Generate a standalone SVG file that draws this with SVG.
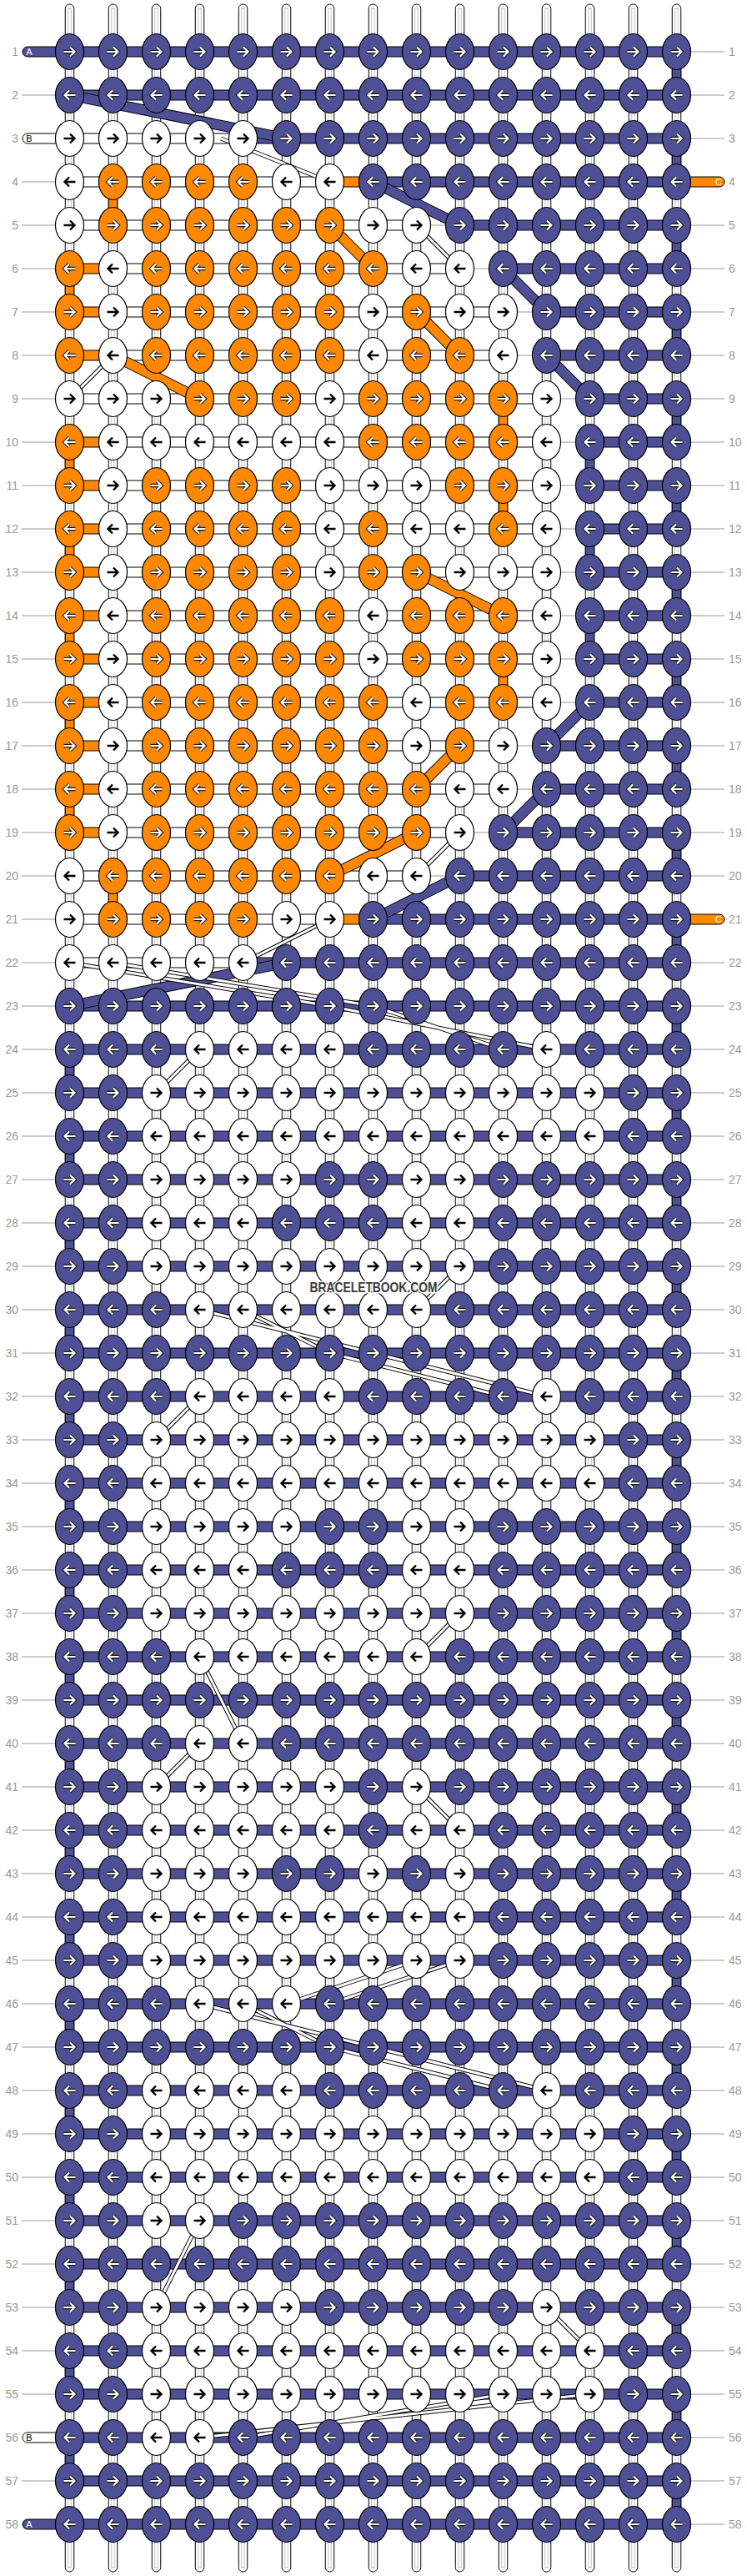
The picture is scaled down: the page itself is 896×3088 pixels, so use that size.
<svg xmlns="http://www.w3.org/2000/svg" width="896" height="3088" viewBox="0 0 896 3088">
<style>
.vs{fill:#fff;stroke:#000;stroke-width:1}
.vi{fill:none;stroke:#c4c4c4;stroke-width:1}
.hb{fill:#4f4f96;stroke:#000;stroke-width:1}
.ho{fill:#ff8800;stroke:#000;stroke-width:1}
.hw{fill:#fff;stroke:#000;stroke-width:1}
.gl{stroke:#bbb;stroke-width:1.5}
.dk{fill:none;stroke:#000;stroke-width:13}
.db{fill:none;stroke:#4f4f96;stroke-width:11}
.do{fill:none;stroke:#ff8800;stroke-width:11}
.tk{fill:none;stroke:#000;stroke-width:5}
.tw{fill:none;stroke:#fff;stroke-width:3}
.n{font-family:"Liberation Sans",Arial,sans-serif;font-size:14px;fill:#999}
.nl{text-anchor:end}
.lt{font-family:"Liberation Sans",Arial,sans-serif;font-size:11px;text-anchor:middle}
.ao{stroke:#1a1a1a;stroke-width:4.4;fill:none}
.ai{stroke:#fff;stroke-width:2.2;fill:none}
.ak{stroke:#000;stroke-width:2.4;fill:none}
.kb{fill:#4f4f96;stroke:#000;stroke-width:1.2}
.ko{fill:#ff8800;stroke:#000;stroke-width:1.2}
.kw{fill:#fff;stroke:#000;stroke-width:1.2}
</style>
<defs>
<path id="aR" d="M-7,0H5.5M0.5,-5.5L6,0L0.5,5.5"/>
<path id="aL" d="M7,0H-5.5M-0.5,-5.5L-6,0L-0.5,5.5"/>
<path id="thin" d="M265,166L395.5,218M499.5,270L551.5,322M83.5,478L135.5,426M551.5,998L499.5,1050M395.5,1102L291.5,1154M83.5,1154L395.5,1206L655.5,1258M135.5,1154L447.5,1206L603.5,1258M239.5,1258L187.5,1310M551.5,1518L499.5,1570M239.5,1570L447.5,1622L655.5,1674M291.5,1570L395.5,1622L603.5,1674M239.5,1674L187.5,1726M551.5,1934L499.5,1986M239.5,1986L291.5,2090M239.5,2090L187.5,2142M499.5,2142L551.5,2194M551.5,2350L395.5,2402M499.5,2350L343.5,2402M239.5,2402L447.5,2454L655.5,2506M291.5,2402L395.5,2454L603.5,2506M239.5,2662L187.5,2766M655.5,2766L707.5,2818M707.5,2870L239.5,2922M603.5,2870L291.5,2922"/>
<g id="BR"><ellipse rx="17" ry="21.5" class="kb"/><use href="#aR" class="ao"/><use href="#aR" class="ai"/></g>
<g id="BL"><ellipse rx="17" ry="21.5" class="kb"/><use href="#aL" class="ao"/><use href="#aL" class="ai"/></g>
<g id="OR"><ellipse rx="17" ry="21.5" class="ko"/><use href="#aR" class="ao"/><use href="#aR" class="ai"/></g>
<g id="OL"><ellipse rx="17" ry="21.5" class="ko"/><use href="#aL" class="ao"/><use href="#aL" class="ai"/></g>
<g id="WR"><ellipse rx="17" ry="21.5" class="kw"/><use href="#aR" class="ak"/></g>
<g id="WL"><ellipse rx="17" ry="21.5" class="kw"/><use href="#aL" class="ak"/></g>
</defs>
<rect width="896" height="3088" fill="#fff"/>
<g id="strings">
<rect class="vs" x="78.25" y="5" width="10.5" height="3078" rx="5.25"/><rect class="vi" x="81.75" y="10" width="3.5" height="3068"/>
<rect class="vs" x="130.25" y="5" width="10.5" height="3078" rx="5.25"/><rect class="vi" x="133.75" y="10" width="3.5" height="3068"/>
<rect class="vs" x="182.25" y="5" width="10.5" height="3078" rx="5.25"/><rect class="vi" x="185.75" y="10" width="3.5" height="3068"/>
<rect class="vs" x="234.25" y="5" width="10.5" height="3078" rx="5.25"/><rect class="vi" x="237.75" y="10" width="3.5" height="3068"/>
<rect class="vs" x="286.25" y="5" width="10.5" height="3078" rx="5.25"/><rect class="vi" x="289.75" y="10" width="3.5" height="3068"/>
<rect class="vs" x="338.25" y="5" width="10.5" height="3078" rx="5.25"/><rect class="vi" x="341.75" y="10" width="3.5" height="3068"/>
<rect class="vs" x="390.25" y="5" width="10.5" height="3078" rx="5.25"/><rect class="vi" x="393.75" y="10" width="3.5" height="3068"/>
<rect class="vs" x="442.25" y="5" width="10.5" height="3078" rx="5.25"/><rect class="vi" x="445.75" y="10" width="3.5" height="3068"/>
<rect class="vs" x="494.25" y="5" width="10.5" height="3078" rx="5.25"/><rect class="vi" x="497.75" y="10" width="3.5" height="3068"/>
<rect class="vs" x="546.25" y="5" width="10.5" height="3078" rx="5.25"/><rect class="vi" x="549.75" y="10" width="3.5" height="3068"/>
<rect class="vs" x="598.25" y="5" width="10.5" height="3078" rx="5.25"/><rect class="vi" x="601.75" y="10" width="3.5" height="3068"/>
<rect class="vs" x="650.25" y="5" width="10.5" height="3078" rx="5.25"/><rect class="vi" x="653.75" y="10" width="3.5" height="3068"/>
<rect class="vs" x="702.25" y="5" width="10.5" height="3078" rx="5.25"/><rect class="vi" x="705.75" y="10" width="3.5" height="3068"/>
<rect class="vs" x="754.25" y="5" width="10.5" height="3078" rx="5.25"/><rect class="vi" x="757.75" y="10" width="3.5" height="3068"/>
<rect class="vs" x="806.25" y="5" width="10.5" height="3078" rx="5.25"/><rect class="vi" x="809.75" y="10" width="3.5" height="3068"/>
</g>
<g id="connectors">
<g id="leaders" class="gl">
<line x1="26" y1="114" x2="67" y2="114"/><line x1="26" y1="218" x2="67" y2="218"/><line x1="26" y1="270" x2="67" y2="270"/><line x1="26" y1="322" x2="67" y2="322"/><line x1="26" y1="374" x2="67" y2="374"/><line x1="26" y1="426" x2="67" y2="426"/><line x1="26" y1="478" x2="67" y2="478"/><line x1="26" y1="530" x2="67" y2="530"/><line x1="26" y1="582" x2="67" y2="582"/><line x1="26" y1="634" x2="67" y2="634"/><line x1="26" y1="686" x2="67" y2="686"/><line x1="26" y1="738" x2="67" y2="738"/><line x1="26" y1="790" x2="67" y2="790"/><line x1="26" y1="842" x2="67" y2="842"/><line x1="26" y1="894" x2="67" y2="894"/><line x1="26" y1="946" x2="67" y2="946"/><line x1="26" y1="998" x2="67" y2="998"/><line x1="26" y1="1050" x2="67" y2="1050"/><line x1="26" y1="1102" x2="67" y2="1102"/><line x1="26" y1="1154" x2="67" y2="1154"/><line x1="26" y1="1206" x2="67" y2="1206"/><line x1="26" y1="1258" x2="67" y2="1258"/><line x1="26" y1="1310" x2="67" y2="1310"/><line x1="26" y1="1362" x2="67" y2="1362"/><line x1="26" y1="1414" x2="67" y2="1414"/><line x1="26" y1="1466" x2="67" y2="1466"/><line x1="26" y1="1518" x2="67" y2="1518"/><line x1="26" y1="1570" x2="67" y2="1570"/><line x1="26" y1="1622" x2="67" y2="1622"/><line x1="26" y1="1674" x2="67" y2="1674"/><line x1="26" y1="1726" x2="67" y2="1726"/><line x1="26" y1="1778" x2="67" y2="1778"/><line x1="26" y1="1830" x2="67" y2="1830"/><line x1="26" y1="1882" x2="67" y2="1882"/><line x1="26" y1="1934" x2="67" y2="1934"/><line x1="26" y1="1986" x2="67" y2="1986"/><line x1="26" y1="2038" x2="67" y2="2038"/><line x1="26" y1="2090" x2="67" y2="2090"/><line x1="26" y1="2142" x2="67" y2="2142"/><line x1="26" y1="2194" x2="67" y2="2194"/><line x1="26" y1="2246" x2="67" y2="2246"/><line x1="26" y1="2298" x2="67" y2="2298"/><line x1="26" y1="2350" x2="67" y2="2350"/><line x1="26" y1="2402" x2="67" y2="2402"/><line x1="26" y1="2454" x2="67" y2="2454"/><line x1="26" y1="2506" x2="67" y2="2506"/><line x1="26" y1="2558" x2="67" y2="2558"/><line x1="26" y1="2610" x2="67" y2="2610"/><line x1="26" y1="2662" x2="67" y2="2662"/><line x1="26" y1="2714" x2="67" y2="2714"/><line x1="26" y1="2766" x2="67" y2="2766"/><line x1="26" y1="2818" x2="67" y2="2818"/><line x1="26" y1="2870" x2="67" y2="2870"/><line x1="26" y1="2974" x2="67" y2="2974"/>
<line x1="828" y1="62" x2="869" y2="62"/><line x1="828" y1="114" x2="869" y2="114"/><line x1="828" y1="166" x2="869" y2="166"/><line x1="828" y1="270" x2="869" y2="270"/><line x1="828" y1="322" x2="869" y2="322"/><line x1="828" y1="374" x2="869" y2="374"/><line x1="828" y1="426" x2="869" y2="426"/><line x1="828" y1="478" x2="869" y2="478"/><line x1="828" y1="530" x2="869" y2="530"/><line x1="828" y1="582" x2="869" y2="582"/><line x1="828" y1="634" x2="869" y2="634"/><line x1="828" y1="686" x2="869" y2="686"/><line x1="828" y1="738" x2="869" y2="738"/><line x1="828" y1="790" x2="869" y2="790"/><line x1="828" y1="842" x2="869" y2="842"/><line x1="828" y1="894" x2="869" y2="894"/><line x1="828" y1="946" x2="869" y2="946"/><line x1="828" y1="998" x2="869" y2="998"/><line x1="828" y1="1050" x2="869" y2="1050"/><line x1="828" y1="1154" x2="869" y2="1154"/><line x1="828" y1="1206" x2="869" y2="1206"/><line x1="828" y1="1258" x2="869" y2="1258"/><line x1="828" y1="1310" x2="869" y2="1310"/><line x1="828" y1="1362" x2="869" y2="1362"/><line x1="828" y1="1414" x2="869" y2="1414"/><line x1="828" y1="1466" x2="869" y2="1466"/><line x1="828" y1="1518" x2="869" y2="1518"/><line x1="828" y1="1570" x2="869" y2="1570"/><line x1="828" y1="1622" x2="869" y2="1622"/><line x1="828" y1="1674" x2="869" y2="1674"/><line x1="828" y1="1726" x2="869" y2="1726"/><line x1="828" y1="1778" x2="869" y2="1778"/><line x1="828" y1="1830" x2="869" y2="1830"/><line x1="828" y1="1882" x2="869" y2="1882"/><line x1="828" y1="1934" x2="869" y2="1934"/><line x1="828" y1="1986" x2="869" y2="1986"/><line x1="828" y1="2038" x2="869" y2="2038"/><line x1="828" y1="2090" x2="869" y2="2090"/><line x1="828" y1="2142" x2="869" y2="2142"/><line x1="828" y1="2194" x2="869" y2="2194"/><line x1="828" y1="2246" x2="869" y2="2246"/><line x1="828" y1="2298" x2="869" y2="2298"/><line x1="828" y1="2350" x2="869" y2="2350"/><line x1="828" y1="2402" x2="869" y2="2402"/><line x1="828" y1="2454" x2="869" y2="2454"/><line x1="828" y1="2506" x2="869" y2="2506"/><line x1="828" y1="2558" x2="869" y2="2558"/><line x1="828" y1="2610" x2="869" y2="2610"/><line x1="828" y1="2662" x2="869" y2="2662"/><line x1="828" y1="2714" x2="869" y2="2714"/><line x1="828" y1="2766" x2="869" y2="2766"/><line x1="828" y1="2818" x2="869" y2="2818"/><line x1="828" y1="2870" x2="869" y2="2870"/><line x1="828" y1="2922" x2="869" y2="2922"/><line x1="828" y1="2974" x2="869" y2="2974"/><line x1="828" y1="3026" x2="869" y2="3026"/>
<line x1="499.5" y1="270" x2="551.5" y2="270"/><line x1="551.5" y1="322" x2="603.5" y2="322"/><line x1="603.5" y1="374" x2="655.5" y2="374"/><line x1="603.5" y1="426" x2="655.5" y2="426"/><line x1="655.5" y1="478" x2="707.5" y2="478"/><line x1="655.5" y1="530" x2="707.5" y2="530"/><line x1="655.5" y1="582" x2="707.5" y2="582"/><line x1="655.5" y1="634" x2="707.5" y2="634"/><line x1="655.5" y1="686" x2="707.5" y2="686"/><line x1="655.5" y1="738" x2="707.5" y2="738"/><line x1="655.5" y1="790" x2="707.5" y2="790"/><line x1="655.5" y1="842" x2="707.5" y2="842"/><line x1="603.5" y1="894" x2="655.5" y2="894"/><line x1="603.5" y1="946" x2="655.5" y2="946"/><line x1="551.5" y1="998" x2="603.5" y2="998"/><line x1="499.5" y1="1050" x2="551.5" y2="1050"/>
</g>
<g id="stubs">
<path class="hb" d="M84,56H33A6,6 0 0 0 33,68H84Z"/>
<path class="hw" d="M84,160H33A6,6 0 0 0 33,172H84Z"/>
<path class="hw" d="M84,2916H33A6,6 0 0 0 33,2928H84Z"/>
<path class="hb" d="M84,3020H33A6,6 0 0 0 33,3032H84Z"/>
<path class="ho" d="M811,212H863A6,6 0 0 1 863,224H811Z"/>
<path class="ho" d="M811,1096H863A6,6 0 0 1 863,1108H811Z"/>
</g>
<g id="vgaps">
<rect class="hb" x="806.25" y="62" width="10.5" height="52"/><rect class="hb" x="806.25" y="166" width="10.5" height="52"/><rect class="hb" x="806.25" y="270" width="10.5" height="52"/><rect class="hb" x="806.25" y="374" width="10.5" height="52"/><rect class="hb" x="806.25" y="478" width="10.5" height="52"/><rect class="hb" x="806.25" y="582" width="10.5" height="52"/><rect class="hb" x="806.25" y="686" width="10.5" height="52"/><rect class="hb" x="806.25" y="790" width="10.5" height="52"/><rect class="hb" x="806.25" y="894" width="10.5" height="52"/><rect class="hb" x="806.25" y="998" width="10.5" height="52"/><rect class="hb" x="806.25" y="1102" width="10.5" height="52"/><rect class="hb" x="806.25" y="1206" width="10.5" height="52"/><rect class="hb" x="806.25" y="1310" width="10.5" height="52"/><rect class="hb" x="806.25" y="1414" width="10.5" height="52"/><rect class="hb" x="806.25" y="1518" width="10.5" height="52"/><rect class="hb" x="806.25" y="1622" width="10.5" height="52"/><rect class="hb" x="806.25" y="1726" width="10.5" height="52"/><rect class="hb" x="806.25" y="1830" width="10.5" height="52"/><rect class="hb" x="806.25" y="1934" width="10.5" height="52"/><rect class="hb" x="806.25" y="2038" width="10.5" height="52"/><rect class="hb" x="806.25" y="2142" width="10.5" height="52"/><rect class="hb" x="806.25" y="2246" width="10.5" height="52"/><rect class="hb" x="806.25" y="2350" width="10.5" height="52"/><rect class="hb" x="806.25" y="2454" width="10.5" height="52"/><rect class="hb" x="806.25" y="2558" width="10.5" height="52"/><rect class="hb" x="806.25" y="2662" width="10.5" height="52"/><rect class="hb" x="806.25" y="2766" width="10.5" height="52"/><rect class="hb" x="806.25" y="2870" width="10.5" height="52"/><rect class="hb" x="806.25" y="2974" width="10.5" height="52"/>
<rect class="hb" x="78.25" y="1258" width="10.5" height="52"/><rect class="hb" x="78.25" y="1362" width="10.5" height="52"/><rect class="hb" x="78.25" y="1466" width="10.5" height="52"/><rect class="hb" x="78.25" y="1570" width="10.5" height="52"/><rect class="hb" x="78.25" y="1674" width="10.5" height="52"/><rect class="hb" x="78.25" y="1778" width="10.5" height="52"/><rect class="hb" x="78.25" y="1882" width="10.5" height="52"/><rect class="hb" x="78.25" y="1986" width="10.5" height="52"/><rect class="hb" x="78.25" y="2090" width="10.5" height="52"/><rect class="hb" x="78.25" y="2194" width="10.5" height="52"/><rect class="hb" x="78.25" y="2298" width="10.5" height="52"/><rect class="hb" x="78.25" y="2402" width="10.5" height="52"/><rect class="hb" x="78.25" y="2506" width="10.5" height="52"/><rect class="hb" x="78.25" y="2610" width="10.5" height="52"/><rect class="hb" x="78.25" y="2714" width="10.5" height="52"/><rect class="hb" x="78.25" y="2818" width="10.5" height="52"/><rect class="hb" x="78.25" y="2922" width="10.5" height="52"/>
<rect class="ho" x="78.25" y="322" width="10.5" height="52"/><rect class="ho" x="78.25" y="530" width="10.5" height="52"/><rect class="ho" x="78.25" y="634" width="10.5" height="52"/><rect class="ho" x="78.25" y="738" width="10.5" height="52"/><rect class="ho" x="78.25" y="842" width="10.5" height="52"/><rect class="ho" x="78.25" y="946" width="10.5" height="52"/>
<rect class="ho" x="130.25" y="218" width="10.5" height="52"/><rect class="ho" x="130.25" y="1050" width="10.5" height="52"/>
<rect class="ho" x="598.25" y="478" width="10.5" height="52"/><rect class="ho" x="598.25" y="582" width="10.5" height="52"/><rect class="ho" x="598.25" y="790" width="10.5" height="52"/>
<rect class="hb" x="702.25" y="530" width="10.5" height="52"/><rect class="hb" x="702.25" y="634" width="10.5" height="52"/><rect class="hb" x="702.25" y="738" width="10.5" height="52"/>
</g>
<g id="hbands">
<rect class="hb" x="83.5" y="56" width="728" height="12"/>
<rect class="hb" x="83.5" y="108" width="728" height="12"/>
<rect class="hw" x="83.5" y="160" width="208" height="12"/><rect class="hb" x="291.5" y="160" width="520" height="12"/>
<rect class="hw" x="83.5" y="212" width="312" height="12"/><rect class="ho" x="395.5" y="212" width="52" height="12"/><rect class="hb" x="447.5" y="212" width="364" height="12"/>
<rect class="hw" x="83.5" y="264" width="416" height="12"/><rect class="hb" x="551.5" y="264" width="260" height="12"/>
<rect class="ho" x="83.5" y="316" width="52" height="12"/><rect class="hw" x="135.5" y="316" width="416" height="12"/><rect class="hb" x="603.5" y="316" width="208" height="12"/>
<rect class="ho" x="83.5" y="368" width="52" height="12"/><rect class="hw" x="135.5" y="368" width="468" height="12"/><rect class="hb" x="655.5" y="368" width="156" height="12"/>
<rect class="ho" x="83.5" y="420" width="52" height="12"/><rect class="hw" x="135.5" y="420" width="468" height="12"/><rect class="hb" x="655.5" y="420" width="156" height="12"/>
<rect class="hw" x="83.5" y="472" width="572" height="12"/><rect class="hb" x="707.5" y="472" width="104" height="12"/>
<rect class="ho" x="83.5" y="524" width="52" height="12"/><rect class="hw" x="135.5" y="524" width="520" height="12"/><rect class="hb" x="707.5" y="524" width="104" height="12"/>
<rect class="ho" x="83.5" y="576" width="52" height="12"/><rect class="hw" x="135.5" y="576" width="520" height="12"/><rect class="hb" x="707.5" y="576" width="104" height="12"/>
<rect class="ho" x="83.5" y="628" width="52" height="12"/><rect class="hw" x="135.5" y="628" width="520" height="12"/><rect class="hb" x="707.5" y="628" width="104" height="12"/>
<rect class="ho" x="83.5" y="680" width="52" height="12"/><rect class="hw" x="135.5" y="680" width="520" height="12"/><rect class="hb" x="707.5" y="680" width="104" height="12"/>
<rect class="ho" x="83.5" y="732" width="52" height="12"/><rect class="hw" x="135.5" y="732" width="520" height="12"/><rect class="hb" x="707.5" y="732" width="104" height="12"/>
<rect class="ho" x="83.5" y="784" width="52" height="12"/><rect class="hw" x="135.5" y="784" width="520" height="12"/><rect class="hb" x="707.5" y="784" width="104" height="12"/>
<rect class="ho" x="83.5" y="836" width="52" height="12"/><rect class="hw" x="135.5" y="836" width="520" height="12"/><rect class="hb" x="707.5" y="836" width="104" height="12"/>
<rect class="ho" x="83.5" y="888" width="52" height="12"/><rect class="hw" x="135.5" y="888" width="468" height="12"/><rect class="hb" x="655.5" y="888" width="156" height="12"/>
<rect class="ho" x="83.5" y="940" width="52" height="12"/><rect class="hw" x="135.5" y="940" width="468" height="12"/><rect class="hb" x="655.5" y="940" width="156" height="12"/>
<rect class="ho" x="83.5" y="992" width="52" height="12"/><rect class="hw" x="135.5" y="992" width="416" height="12"/><rect class="hb" x="603.5" y="992" width="208" height="12"/>
<rect class="hw" x="83.5" y="1044" width="416" height="12"/><rect class="hb" x="551.5" y="1044" width="260" height="12"/>
<rect class="hw" x="83.5" y="1096" width="312" height="12"/><rect class="ho" x="395.5" y="1096" width="52" height="12"/><rect class="hb" x="447.5" y="1096" width="364" height="12"/>
<rect class="hw" x="83.5" y="1148" width="208" height="12"/><rect class="hb" x="291.5" y="1148" width="520" height="12"/>
<rect class="hb" x="83.5" y="1200" width="728" height="12"/><rect class="hb" x="83.5" y="1252" width="728" height="12"/><rect class="hb" x="83.5" y="1304" width="728" height="12"/><rect class="hb" x="83.5" y="1356" width="728" height="12"/><rect class="hb" x="83.5" y="1408" width="728" height="12"/><rect class="hb" x="83.5" y="1460" width="728" height="12"/><rect class="hb" x="83.5" y="1512" width="728" height="12"/><rect class="hb" x="83.5" y="1564" width="728" height="12"/><rect class="hb" x="83.5" y="1616" width="728" height="12"/><rect class="hb" x="83.5" y="1668" width="728" height="12"/><rect class="hb" x="83.5" y="1720" width="728" height="12"/><rect class="hb" x="83.5" y="1772" width="728" height="12"/><rect class="hb" x="83.5" y="1824" width="728" height="12"/><rect class="hb" x="83.5" y="1876" width="728" height="12"/><rect class="hb" x="83.5" y="1928" width="728" height="12"/><rect class="hb" x="83.5" y="1980" width="728" height="12"/><rect class="hb" x="83.5" y="2032" width="728" height="12"/><rect class="hb" x="83.5" y="2084" width="728" height="12"/><rect class="hb" x="83.5" y="2136" width="728" height="12"/><rect class="hb" x="83.5" y="2188" width="728" height="12"/><rect class="hb" x="83.5" y="2240" width="728" height="12"/><rect class="hb" x="83.5" y="2292" width="728" height="12"/><rect class="hb" x="83.5" y="2344" width="728" height="12"/><rect class="hb" x="83.5" y="2396" width="728" height="12"/><rect class="hb" x="83.5" y="2448" width="728" height="12"/><rect class="hb" x="83.5" y="2500" width="728" height="12"/><rect class="hb" x="83.5" y="2552" width="728" height="12"/><rect class="hb" x="83.5" y="2604" width="728" height="12"/><rect class="hb" x="83.5" y="2656" width="728" height="12"/><rect class="hb" x="83.5" y="2708" width="728" height="12"/><rect class="hb" x="83.5" y="2760" width="728" height="12"/><rect class="hb" x="83.5" y="2812" width="728" height="12"/><rect class="hb" x="83.5" y="2864" width="728" height="12"/><rect class="hb" x="83.5" y="2916" width="728" height="12"/><rect class="hb" x="83.5" y="2968" width="728" height="12"/><rect class="hb" x="83.5" y="3020" width="728" height="12"/>
</g>
<g id="diagonals">
<path class="dk" d="M83.5,114L343.5,166M447.5,218L551.5,270M603.5,322L655.5,374M655.5,426L707.5,478M707.5,842L655.5,894M655.5,946L603.5,998M551.5,1050L447.5,1102M343.5,1154L83.5,1206M395.5,270L447.5,322M499.5,374L551.5,426M135.5,426L239.5,478M499.5,686L603.5,738M551.5,894L499.5,946M499.5,998L395.5,1050"/>
<path class="db" d="M83.5,114L343.5,166M447.5,218L551.5,270M603.5,322L655.5,374M655.5,426L707.5,478M707.5,842L655.5,894M655.5,946L603.5,998M551.5,1050L447.5,1102M343.5,1154L83.5,1206"/>
<path class="do" d="M395.5,270L447.5,322M499.5,374L551.5,426M135.5,426L239.5,478M499.5,686L603.5,738M551.5,894L499.5,946M499.5,998L395.5,1050"/>
<use href="#thin" class="tk"/>
<use href="#thin" class="tw"/>
</g>
</g>
<g id="knots">
<g id="row1" transform="translate(0,62)"><use id="k1-1" href="#BR" x="83.5"/><use id="k1-2" href="#BR" x="135.5"/><use id="k1-3" href="#BR" x="187.5"/><use id="k1-4" href="#BR" x="239.5"/><use id="k1-5" href="#BR" x="291.5"/><use id="k1-6" href="#BR" x="343.5"/><use id="k1-7" href="#BR" x="395.5"/><use id="k1-8" href="#BR" x="447.5"/><use id="k1-9" href="#BR" x="499.5"/><use id="k1-10" href="#BR" x="551.5"/><use id="k1-11" href="#BR" x="603.5"/><use id="k1-12" href="#BR" x="655.5"/><use id="k1-13" href="#BR" x="707.5"/><use id="k1-14" href="#BR" x="759.5"/><use id="k1-15" href="#BR" x="811.5"/></g>
<g id="row2" transform="translate(0,114)"><use id="k2-1" href="#BL" x="83.5"/><use id="k2-2" href="#BL" x="135.5"/><use id="k2-3" href="#BL" x="187.5"/><use id="k2-4" href="#BL" x="239.5"/><use id="k2-5" href="#BL" x="291.5"/><use id="k2-6" href="#BL" x="343.5"/><use id="k2-7" href="#BL" x="395.5"/><use id="k2-8" href="#BL" x="447.5"/><use id="k2-9" href="#BL" x="499.5"/><use id="k2-10" href="#BL" x="551.5"/><use id="k2-11" href="#BL" x="603.5"/><use id="k2-12" href="#BL" x="655.5"/><use id="k2-13" href="#BL" x="707.5"/><use id="k2-14" href="#BL" x="759.5"/><use id="k2-15" href="#BL" x="811.5"/></g>
<g id="row3" transform="translate(0,166)"><use id="k3-1" href="#WR" x="83.5"/><use id="k3-2" href="#WR" x="135.5"/><use id="k3-3" href="#WR" x="187.5"/><use id="k3-4" href="#WR" x="239.5"/><use id="k3-5" href="#WR" x="291.5"/><use id="k3-6" href="#BR" x="343.5"/><use id="k3-7" href="#BR" x="395.5"/><use id="k3-8" href="#BR" x="447.5"/><use id="k3-9" href="#BR" x="499.5"/><use id="k3-10" href="#BR" x="551.5"/><use id="k3-11" href="#BR" x="603.5"/><use id="k3-12" href="#BR" x="655.5"/><use id="k3-13" href="#BR" x="707.5"/><use id="k3-14" href="#BR" x="759.5"/><use id="k3-15" href="#BR" x="811.5"/></g>
<g id="row4" transform="translate(0,218)"><use id="k4-1" href="#WL" x="83.5"/><use id="k4-2" href="#OL" x="135.5"/><use id="k4-3" href="#OL" x="187.5"/><use id="k4-4" href="#OL" x="239.5"/><use id="k4-5" href="#OL" x="291.5"/><use id="k4-6" href="#WL" x="343.5"/><use id="k4-7" href="#WL" x="395.5"/><use id="k4-8" href="#BL" x="447.5"/><use id="k4-9" href="#BL" x="499.5"/><use id="k4-10" href="#BL" x="551.5"/><use id="k4-11" href="#BL" x="603.5"/><use id="k4-12" href="#BL" x="655.5"/><use id="k4-13" href="#BL" x="707.5"/><use id="k4-14" href="#BL" x="759.5"/><use id="k4-15" href="#BL" x="811.5"/></g>
<g id="row5" transform="translate(0,270)"><use id="k5-1" href="#WR" x="83.5"/><use id="k5-2" href="#OR" x="135.5"/><use id="k5-3" href="#OR" x="187.5"/><use id="k5-4" href="#OR" x="239.5"/><use id="k5-5" href="#OR" x="291.5"/><use id="k5-6" href="#OR" x="343.5"/><use id="k5-7" href="#OR" x="395.5"/><use id="k5-8" href="#WR" x="447.5"/><use id="k5-9" href="#WR" x="499.5"/><use id="k5-10" href="#BR" x="551.5"/><use id="k5-11" href="#BR" x="603.5"/><use id="k5-12" href="#BR" x="655.5"/><use id="k5-13" href="#BR" x="707.5"/><use id="k5-14" href="#BR" x="759.5"/><use id="k5-15" href="#BR" x="811.5"/></g>
<g id="row6" transform="translate(0,322)"><use id="k6-1" href="#OL" x="83.5"/><use id="k6-2" href="#WL" x="135.5"/><use id="k6-3" href="#OL" x="187.5"/><use id="k6-4" href="#OL" x="239.5"/><use id="k6-5" href="#OL" x="291.5"/><use id="k6-6" href="#OL" x="343.5"/><use id="k6-7" href="#OL" x="395.5"/><use id="k6-8" href="#OL" x="447.5"/><use id="k6-9" href="#WL" x="499.5"/><use id="k6-10" href="#WL" x="551.5"/><use id="k6-11" href="#BL" x="603.5"/><use id="k6-12" href="#BL" x="655.5"/><use id="k6-13" href="#BL" x="707.5"/><use id="k6-14" href="#BL" x="759.5"/><use id="k6-15" href="#BL" x="811.5"/></g>
<g id="row7" transform="translate(0,374)"><use id="k7-1" href="#OR" x="83.5"/><use id="k7-2" href="#WR" x="135.5"/><use id="k7-3" href="#OR" x="187.5"/><use id="k7-4" href="#OR" x="239.5"/><use id="k7-5" href="#OR" x="291.5"/><use id="k7-6" href="#OR" x="343.5"/><use id="k7-7" href="#OR" x="395.5"/><use id="k7-8" href="#WR" x="447.5"/><use id="k7-9" href="#OR" x="499.5"/><use id="k7-10" href="#WR" x="551.5"/><use id="k7-11" href="#WR" x="603.5"/><use id="k7-12" href="#BR" x="655.5"/><use id="k7-13" href="#BR" x="707.5"/><use id="k7-14" href="#BR" x="759.5"/><use id="k7-15" href="#BR" x="811.5"/></g>
<g id="row8" transform="translate(0,426)"><use id="k8-1" href="#OL" x="83.5"/><use id="k8-2" href="#WL" x="135.5"/><use id="k8-3" href="#OL" x="187.5"/><use id="k8-4" href="#OL" x="239.5"/><use id="k8-5" href="#OL" x="291.5"/><use id="k8-6" href="#OL" x="343.5"/><use id="k8-7" href="#OL" x="395.5"/><use id="k8-8" href="#WL" x="447.5"/><use id="k8-9" href="#OL" x="499.5"/><use id="k8-10" href="#OL" x="551.5"/><use id="k8-11" href="#WL" x="603.5"/><use id="k8-12" href="#BL" x="655.5"/><use id="k8-13" href="#BL" x="707.5"/><use id="k8-14" href="#BL" x="759.5"/><use id="k8-15" href="#BL" x="811.5"/></g>
<g id="row9" transform="translate(0,478)"><use id="k9-1" href="#WR" x="83.5"/><use id="k9-2" href="#WR" x="135.5"/><use id="k9-3" href="#WR" x="187.5"/><use id="k9-4" href="#OR" x="239.5"/><use id="k9-5" href="#OR" x="291.5"/><use id="k9-6" href="#OR" x="343.5"/><use id="k9-7" href="#WR" x="395.5"/><use id="k9-8" href="#OR" x="447.5"/><use id="k9-9" href="#OR" x="499.5"/><use id="k9-10" href="#OR" x="551.5"/><use id="k9-11" href="#OR" x="603.5"/><use id="k9-12" href="#WR" x="655.5"/><use id="k9-13" href="#BR" x="707.5"/><use id="k9-14" href="#BR" x="759.5"/><use id="k9-15" href="#BR" x="811.5"/></g>
<g id="row10" transform="translate(0,530)"><use id="k10-1" href="#OL" x="83.5"/><use id="k10-2" href="#WL" x="135.5"/><use id="k10-3" href="#WL" x="187.5"/><use id="k10-4" href="#WL" x="239.5"/><use id="k10-5" href="#WL" x="291.5"/><use id="k10-6" href="#WL" x="343.5"/><use id="k10-7" href="#WL" x="395.5"/><use id="k10-8" href="#OL" x="447.5"/><use id="k10-9" href="#OL" x="499.5"/><use id="k10-10" href="#OL" x="551.5"/><use id="k10-11" href="#OL" x="603.5"/><use id="k10-12" href="#WL" x="655.5"/><use id="k10-13" href="#BL" x="707.5"/><use id="k10-14" href="#BL" x="759.5"/><use id="k10-15" href="#BL" x="811.5"/></g>
<g id="row11" transform="translate(0,582)"><use id="k11-1" href="#OR" x="83.5"/><use id="k11-2" href="#WR" x="135.5"/><use id="k11-3" href="#OR" x="187.5"/><use id="k11-4" href="#OR" x="239.5"/><use id="k11-5" href="#OR" x="291.5"/><use id="k11-6" href="#OR" x="343.5"/><use id="k11-7" href="#WR" x="395.5"/><use id="k11-8" href="#WR" x="447.5"/><use id="k11-9" href="#WR" x="499.5"/><use id="k11-10" href="#OR" x="551.5"/><use id="k11-11" href="#OR" x="603.5"/><use id="k11-12" href="#WR" x="655.5"/><use id="k11-13" href="#BR" x="707.5"/><use id="k11-14" href="#BR" x="759.5"/><use id="k11-15" href="#BR" x="811.5"/></g>
<g id="row12" transform="translate(0,634)"><use id="k12-1" href="#OL" x="83.5"/><use id="k12-2" href="#WL" x="135.5"/><use id="k12-3" href="#OL" x="187.5"/><use id="k12-4" href="#OL" x="239.5"/><use id="k12-5" href="#OL" x="291.5"/><use id="k12-6" href="#OL" x="343.5"/><use id="k12-7" href="#WL" x="395.5"/><use id="k12-8" href="#OL" x="447.5"/><use id="k12-9" href="#WL" x="499.5"/><use id="k12-10" href="#WL" x="551.5"/><use id="k12-11" href="#OL" x="603.5"/><use id="k12-12" href="#WL" x="655.5"/><use id="k12-13" href="#BL" x="707.5"/><use id="k12-14" href="#BL" x="759.5"/><use id="k12-15" href="#BL" x="811.5"/></g>
<g id="row13" transform="translate(0,686)"><use id="k13-1" href="#OR" x="83.5"/><use id="k13-2" href="#WR" x="135.5"/><use id="k13-3" href="#OR" x="187.5"/><use id="k13-4" href="#OR" x="239.5"/><use id="k13-5" href="#OR" x="291.5"/><use id="k13-6" href="#OR" x="343.5"/><use id="k13-7" href="#WR" x="395.5"/><use id="k13-8" href="#OR" x="447.5"/><use id="k13-9" href="#OR" x="499.5"/><use id="k13-10" href="#WR" x="551.5"/><use id="k13-11" href="#WR" x="603.5"/><use id="k13-12" href="#WR" x="655.5"/><use id="k13-13" href="#BR" x="707.5"/><use id="k13-14" href="#BR" x="759.5"/><use id="k13-15" href="#BR" x="811.5"/></g>
<g id="row14" transform="translate(0,738)"><use id="k14-1" href="#OL" x="83.5"/><use id="k14-2" href="#WL" x="135.5"/><use id="k14-3" href="#OL" x="187.5"/><use id="k14-4" href="#OL" x="239.5"/><use id="k14-5" href="#OL" x="291.5"/><use id="k14-6" href="#OL" x="343.5"/><use id="k14-7" href="#OL" x="395.5"/><use id="k14-8" href="#WL" x="447.5"/><use id="k14-9" href="#OL" x="499.5"/><use id="k14-10" href="#OL" x="551.5"/><use id="k14-11" href="#OL" x="603.5"/><use id="k14-12" href="#WL" x="655.5"/><use id="k14-13" href="#BL" x="707.5"/><use id="k14-14" href="#BL" x="759.5"/><use id="k14-15" href="#BL" x="811.5"/></g>
<g id="row15" transform="translate(0,790)"><use id="k15-1" href="#OR" x="83.5"/><use id="k15-2" href="#WR" x="135.5"/><use id="k15-3" href="#OR" x="187.5"/><use id="k15-4" href="#OR" x="239.5"/><use id="k15-5" href="#OR" x="291.5"/><use id="k15-6" href="#OR" x="343.5"/><use id="k15-7" href="#OR" x="395.5"/><use id="k15-8" href="#WR" x="447.5"/><use id="k15-9" href="#OR" x="499.5"/><use id="k15-10" href="#OR" x="551.5"/><use id="k15-11" href="#OR" x="603.5"/><use id="k15-12" href="#WR" x="655.5"/><use id="k15-13" href="#BR" x="707.5"/><use id="k15-14" href="#BR" x="759.5"/><use id="k15-15" href="#BR" x="811.5"/></g>
<g id="row16" transform="translate(0,842)"><use id="k16-1" href="#OL" x="83.5"/><use id="k16-2" href="#WL" x="135.5"/><use id="k16-3" href="#OL" x="187.5"/><use id="k16-4" href="#OL" x="239.5"/><use id="k16-5" href="#OL" x="291.5"/><use id="k16-6" href="#OL" x="343.5"/><use id="k16-7" href="#OL" x="395.5"/><use id="k16-8" href="#OL" x="447.5"/><use id="k16-9" href="#WL" x="499.5"/><use id="k16-10" href="#OL" x="551.5"/><use id="k16-11" href="#OL" x="603.5"/><use id="k16-12" href="#WL" x="655.5"/><use id="k16-13" href="#BL" x="707.5"/><use id="k16-14" href="#BL" x="759.5"/><use id="k16-15" href="#BL" x="811.5"/></g>
<g id="row17" transform="translate(0,894)"><use id="k17-1" href="#OR" x="83.5"/><use id="k17-2" href="#WR" x="135.5"/><use id="k17-3" href="#OR" x="187.5"/><use id="k17-4" href="#OR" x="239.5"/><use id="k17-5" href="#OR" x="291.5"/><use id="k17-6" href="#OR" x="343.5"/><use id="k17-7" href="#OR" x="395.5"/><use id="k17-8" href="#OR" x="447.5"/><use id="k17-9" href="#WR" x="499.5"/><use id="k17-10" href="#OR" x="551.5"/><use id="k17-11" href="#WR" x="603.5"/><use id="k17-12" href="#BR" x="655.5"/><use id="k17-13" href="#BR" x="707.5"/><use id="k17-14" href="#BR" x="759.5"/><use id="k17-15" href="#BR" x="811.5"/></g>
<g id="row18" transform="translate(0,946)"><use id="k18-1" href="#OL" x="83.5"/><use id="k18-2" href="#WL" x="135.5"/><use id="k18-3" href="#OL" x="187.5"/><use id="k18-4" href="#OL" x="239.5"/><use id="k18-5" href="#OL" x="291.5"/><use id="k18-6" href="#OL" x="343.5"/><use id="k18-7" href="#OL" x="395.5"/><use id="k18-8" href="#OL" x="447.5"/><use id="k18-9" href="#OL" x="499.5"/><use id="k18-10" href="#WL" x="551.5"/><use id="k18-11" href="#WL" x="603.5"/><use id="k18-12" href="#BL" x="655.5"/><use id="k18-13" href="#BL" x="707.5"/><use id="k18-14" href="#BL" x="759.5"/><use id="k18-15" href="#BL" x="811.5"/></g>
<g id="row19" transform="translate(0,998)"><use id="k19-1" href="#OR" x="83.5"/><use id="k19-2" href="#WR" x="135.5"/><use id="k19-3" href="#OR" x="187.5"/><use id="k19-4" href="#OR" x="239.5"/><use id="k19-5" href="#OR" x="291.5"/><use id="k19-6" href="#OR" x="343.5"/><use id="k19-7" href="#OR" x="395.5"/><use id="k19-8" href="#OR" x="447.5"/><use id="k19-9" href="#OR" x="499.5"/><use id="k19-10" href="#WR" x="551.5"/><use id="k19-11" href="#BR" x="603.5"/><use id="k19-12" href="#BR" x="655.5"/><use id="k19-13" href="#BR" x="707.5"/><use id="k19-14" href="#BR" x="759.5"/><use id="k19-15" href="#BR" x="811.5"/></g>
<g id="row20" transform="translate(0,1050)"><use id="k20-1" href="#WL" x="83.5"/><use id="k20-2" href="#OL" x="135.5"/><use id="k20-3" href="#OL" x="187.5"/><use id="k20-4" href="#OL" x="239.5"/><use id="k20-5" href="#OL" x="291.5"/><use id="k20-6" href="#OL" x="343.5"/><use id="k20-7" href="#OL" x="395.5"/><use id="k20-8" href="#WL" x="447.5"/><use id="k20-9" href="#WL" x="499.5"/><use id="k20-10" href="#BL" x="551.5"/><use id="k20-11" href="#BL" x="603.5"/><use id="k20-12" href="#BL" x="655.5"/><use id="k20-13" href="#BL" x="707.5"/><use id="k20-14" href="#BL" x="759.5"/><use id="k20-15" href="#BL" x="811.5"/></g>
<g id="row21" transform="translate(0,1102)"><use id="k21-1" href="#WR" x="83.5"/><use id="k21-2" href="#OR" x="135.5"/><use id="k21-3" href="#OR" x="187.5"/><use id="k21-4" href="#OR" x="239.5"/><use id="k21-5" href="#OR" x="291.5"/><use id="k21-6" href="#WR" x="343.5"/><use id="k21-7" href="#WR" x="395.5"/><use id="k21-8" href="#BR" x="447.5"/><use id="k21-9" href="#BR" x="499.5"/><use id="k21-10" href="#BR" x="551.5"/><use id="k21-11" href="#BR" x="603.5"/><use id="k21-12" href="#BR" x="655.5"/><use id="k21-13" href="#BR" x="707.5"/><use id="k21-14" href="#BR" x="759.5"/><use id="k21-15" href="#BR" x="811.5"/></g>
<g id="row22" transform="translate(0,1154)"><use id="k22-1" href="#WL" x="83.5"/><use id="k22-2" href="#WL" x="135.5"/><use id="k22-3" href="#WL" x="187.5"/><use id="k22-4" href="#WL" x="239.5"/><use id="k22-5" href="#WL" x="291.5"/><use id="k22-6" href="#BL" x="343.5"/><use id="k22-7" href="#BL" x="395.5"/><use id="k22-8" href="#BL" x="447.5"/><use id="k22-9" href="#BL" x="499.5"/><use id="k22-10" href="#BL" x="551.5"/><use id="k22-11" href="#BL" x="603.5"/><use id="k22-12" href="#BL" x="655.5"/><use id="k22-13" href="#BL" x="707.5"/><use id="k22-14" href="#BL" x="759.5"/><use id="k22-15" href="#BL" x="811.5"/></g>
<g id="row23" transform="translate(0,1206)"><use id="k23-1" href="#BR" x="83.5"/><use id="k23-2" href="#BR" x="135.5"/><use id="k23-3" href="#BR" x="187.5"/><use id="k23-4" href="#BR" x="239.5"/><use id="k23-5" href="#BR" x="291.5"/><use id="k23-6" href="#BR" x="343.5"/><use id="k23-7" href="#BR" x="395.5"/><use id="k23-8" href="#BR" x="447.5"/><use id="k23-9" href="#BR" x="499.5"/><use id="k23-10" href="#BR" x="551.5"/><use id="k23-11" href="#BR" x="603.5"/><use id="k23-12" href="#BR" x="655.5"/><use id="k23-13" href="#BR" x="707.5"/><use id="k23-14" href="#BR" x="759.5"/><use id="k23-15" href="#BR" x="811.5"/></g>
<g id="row24" transform="translate(0,1258)"><use id="k24-1" href="#BL" x="83.5"/><use id="k24-2" href="#BL" x="135.5"/><use id="k24-3" href="#BL" x="187.5"/><use id="k24-4" href="#WL" x="239.5"/><use id="k24-5" href="#WL" x="291.5"/><use id="k24-6" href="#WL" x="343.5"/><use id="k24-7" href="#WL" x="395.5"/><use id="k24-8" href="#BL" x="447.5"/><use id="k24-9" href="#BL" x="499.5"/><use id="k24-10" href="#BL" x="551.5"/><use id="k24-11" href="#BL" x="603.5"/><use id="k24-12" href="#WL" x="655.5"/><use id="k24-13" href="#BL" x="707.5"/><use id="k24-14" href="#BL" x="759.5"/><use id="k24-15" href="#BL" x="811.5"/></g>
<g id="row25" transform="translate(0,1310)"><use id="k25-1" href="#BR" x="83.5"/><use id="k25-2" href="#BR" x="135.5"/><use id="k25-3" href="#WR" x="187.5"/><use id="k25-4" href="#WR" x="239.5"/><use id="k25-5" href="#WR" x="291.5"/><use id="k25-6" href="#WR" x="343.5"/><use id="k25-7" href="#WR" x="395.5"/><use id="k25-8" href="#WR" x="447.5"/><use id="k25-9" href="#WR" x="499.5"/><use id="k25-10" href="#WR" x="551.5"/><use id="k25-11" href="#WR" x="603.5"/><use id="k25-12" href="#WR" x="655.5"/><use id="k25-13" href="#WR" x="707.5"/><use id="k25-14" href="#BR" x="759.5"/><use id="k25-15" href="#BR" x="811.5"/></g>
<g id="row26" transform="translate(0,1362)"><use id="k26-1" href="#BL" x="83.5"/><use id="k26-2" href="#BL" x="135.5"/><use id="k26-3" href="#WL" x="187.5"/><use id="k26-4" href="#WL" x="239.5"/><use id="k26-5" href="#WL" x="291.5"/><use id="k26-6" href="#WL" x="343.5"/><use id="k26-7" href="#WL" x="395.5"/><use id="k26-8" href="#WL" x="447.5"/><use id="k26-9" href="#WL" x="499.5"/><use id="k26-10" href="#WL" x="551.5"/><use id="k26-11" href="#WL" x="603.5"/><use id="k26-12" href="#WL" x="655.5"/><use id="k26-13" href="#WL" x="707.5"/><use id="k26-14" href="#BL" x="759.5"/><use id="k26-15" href="#BL" x="811.5"/></g>
<g id="row27" transform="translate(0,1414)"><use id="k27-1" href="#BR" x="83.5"/><use id="k27-2" href="#BR" x="135.5"/><use id="k27-3" href="#WR" x="187.5"/><use id="k27-4" href="#WR" x="239.5"/><use id="k27-5" href="#WR" x="291.5"/><use id="k27-6" href="#WR" x="343.5"/><use id="k27-7" href="#BR" x="395.5"/><use id="k27-8" href="#BR" x="447.5"/><use id="k27-9" href="#WR" x="499.5"/><use id="k27-10" href="#WR" x="551.5"/><use id="k27-11" href="#BR" x="603.5"/><use id="k27-12" href="#BR" x="655.5"/><use id="k27-13" href="#BR" x="707.5"/><use id="k27-14" href="#BR" x="759.5"/><use id="k27-15" href="#BR" x="811.5"/></g>
<g id="row28" transform="translate(0,1466)"><use id="k28-1" href="#BL" x="83.5"/><use id="k28-2" href="#BL" x="135.5"/><use id="k28-3" href="#WL" x="187.5"/><use id="k28-4" href="#WL" x="239.5"/><use id="k28-5" href="#WL" x="291.5"/><use id="k28-6" href="#BL" x="343.5"/><use id="k28-7" href="#BL" x="395.5"/><use id="k28-8" href="#BL" x="447.5"/><use id="k28-9" href="#WL" x="499.5"/><use id="k28-10" href="#WL" x="551.5"/><use id="k28-11" href="#BL" x="603.5"/><use id="k28-12" href="#BL" x="655.5"/><use id="k28-13" href="#BL" x="707.5"/><use id="k28-14" href="#BL" x="759.5"/><use id="k28-15" href="#BL" x="811.5"/></g>
<g id="row29" transform="translate(0,1518)"><use id="k29-1" href="#BR" x="83.5"/><use id="k29-2" href="#BR" x="135.5"/><use id="k29-3" href="#WR" x="187.5"/><use id="k29-4" href="#WR" x="239.5"/><use id="k29-5" href="#WR" x="291.5"/><use id="k29-6" href="#WR" x="343.5"/><use id="k29-7" href="#WR" x="395.5"/><use id="k29-8" href="#WR" x="447.5"/><use id="k29-9" href="#WR" x="499.5"/><use id="k29-10" href="#WR" x="551.5"/><use id="k29-11" href="#BR" x="603.5"/><use id="k29-12" href="#BR" x="655.5"/><use id="k29-13" href="#BR" x="707.5"/><use id="k29-14" href="#BR" x="759.5"/><use id="k29-15" href="#BR" x="811.5"/></g>
<g id="row30" transform="translate(0,1570)"><use id="k30-1" href="#BL" x="83.5"/><use id="k30-2" href="#BL" x="135.5"/><use id="k30-3" href="#BL" x="187.5"/><use id="k30-4" href="#WL" x="239.5"/><use id="k30-5" href="#WL" x="291.5"/><use id="k30-6" href="#WL" x="343.5"/><use id="k30-7" href="#WL" x="395.5"/><use id="k30-8" href="#WL" x="447.5"/><use id="k30-9" href="#WL" x="499.5"/><use id="k30-10" href="#BL" x="551.5"/><use id="k30-11" href="#BL" x="603.5"/><use id="k30-12" href="#BL" x="655.5"/><use id="k30-13" href="#BL" x="707.5"/><use id="k30-14" href="#BL" x="759.5"/><use id="k30-15" href="#BL" x="811.5"/></g>
<g id="row31" transform="translate(0,1622)"><use id="k31-1" href="#BR" x="83.5"/><use id="k31-2" href="#BR" x="135.5"/><use id="k31-3" href="#BR" x="187.5"/><use id="k31-4" href="#BR" x="239.5"/><use id="k31-5" href="#BR" x="291.5"/><use id="k31-6" href="#BR" x="343.5"/><use id="k31-7" href="#BR" x="395.5"/><use id="k31-8" href="#BR" x="447.5"/><use id="k31-9" href="#BR" x="499.5"/><use id="k31-10" href="#BR" x="551.5"/><use id="k31-11" href="#BR" x="603.5"/><use id="k31-12" href="#BR" x="655.5"/><use id="k31-13" href="#BR" x="707.5"/><use id="k31-14" href="#BR" x="759.5"/><use id="k31-15" href="#BR" x="811.5"/></g>
<g id="row32" transform="translate(0,1674)"><use id="k32-1" href="#BL" x="83.5"/><use id="k32-2" href="#BL" x="135.5"/><use id="k32-3" href="#BL" x="187.5"/><use id="k32-4" href="#WL" x="239.5"/><use id="k32-5" href="#WL" x="291.5"/><use id="k32-6" href="#WL" x="343.5"/><use id="k32-7" href="#WL" x="395.5"/><use id="k32-8" href="#BL" x="447.5"/><use id="k32-9" href="#BL" x="499.5"/><use id="k32-10" href="#BL" x="551.5"/><use id="k32-11" href="#BL" x="603.5"/><use id="k32-12" href="#WL" x="655.5"/><use id="k32-13" href="#BL" x="707.5"/><use id="k32-14" href="#BL" x="759.5"/><use id="k32-15" href="#BL" x="811.5"/></g>
<g id="row33" transform="translate(0,1726)"><use id="k33-1" href="#BR" x="83.5"/><use id="k33-2" href="#BR" x="135.5"/><use id="k33-3" href="#WR" x="187.5"/><use id="k33-4" href="#WR" x="239.5"/><use id="k33-5" href="#WR" x="291.5"/><use id="k33-6" href="#WR" x="343.5"/><use id="k33-7" href="#WR" x="395.5"/><use id="k33-8" href="#WR" x="447.5"/><use id="k33-9" href="#WR" x="499.5"/><use id="k33-10" href="#WR" x="551.5"/><use id="k33-11" href="#WR" x="603.5"/><use id="k33-12" href="#WR" x="655.5"/><use id="k33-13" href="#WR" x="707.5"/><use id="k33-14" href="#BR" x="759.5"/><use id="k33-15" href="#BR" x="811.5"/></g>
<g id="row34" transform="translate(0,1778)"><use id="k34-1" href="#BL" x="83.5"/><use id="k34-2" href="#BL" x="135.5"/><use id="k34-3" href="#WL" x="187.5"/><use id="k34-4" href="#WL" x="239.5"/><use id="k34-5" href="#WL" x="291.5"/><use id="k34-6" href="#WL" x="343.5"/><use id="k34-7" href="#WL" x="395.5"/><use id="k34-8" href="#WL" x="447.5"/><use id="k34-9" href="#WL" x="499.5"/><use id="k34-10" href="#WL" x="551.5"/><use id="k34-11" href="#WL" x="603.5"/><use id="k34-12" href="#WL" x="655.5"/><use id="k34-13" href="#WL" x="707.5"/><use id="k34-14" href="#BL" x="759.5"/><use id="k34-15" href="#BL" x="811.5"/></g>
<g id="row35" transform="translate(0,1830)"><use id="k35-1" href="#BR" x="83.5"/><use id="k35-2" href="#BR" x="135.5"/><use id="k35-3" href="#WR" x="187.5"/><use id="k35-4" href="#WR" x="239.5"/><use id="k35-5" href="#WR" x="291.5"/><use id="k35-6" href="#WR" x="343.5"/><use id="k35-7" href="#BR" x="395.5"/><use id="k35-8" href="#BR" x="447.5"/><use id="k35-9" href="#WR" x="499.5"/><use id="k35-10" href="#WR" x="551.5"/><use id="k35-11" href="#BR" x="603.5"/><use id="k35-12" href="#BR" x="655.5"/><use id="k35-13" href="#BR" x="707.5"/><use id="k35-14" href="#BR" x="759.5"/><use id="k35-15" href="#BR" x="811.5"/></g>
<g id="row36" transform="translate(0,1882)"><use id="k36-1" href="#BL" x="83.5"/><use id="k36-2" href="#BL" x="135.5"/><use id="k36-3" href="#WL" x="187.5"/><use id="k36-4" href="#WL" x="239.5"/><use id="k36-5" href="#WL" x="291.5"/><use id="k36-6" href="#BL" x="343.5"/><use id="k36-7" href="#BL" x="395.5"/><use id="k36-8" href="#BL" x="447.5"/><use id="k36-9" href="#WL" x="499.5"/><use id="k36-10" href="#WL" x="551.5"/><use id="k36-11" href="#BL" x="603.5"/><use id="k36-12" href="#BL" x="655.5"/><use id="k36-13" href="#BL" x="707.5"/><use id="k36-14" href="#BL" x="759.5"/><use id="k36-15" href="#BL" x="811.5"/></g>
<g id="row37" transform="translate(0,1934)"><use id="k37-1" href="#BR" x="83.5"/><use id="k37-2" href="#BR" x="135.5"/><use id="k37-3" href="#WR" x="187.5"/><use id="k37-4" href="#WR" x="239.5"/><use id="k37-5" href="#WR" x="291.5"/><use id="k37-6" href="#WR" x="343.5"/><use id="k37-7" href="#WR" x="395.5"/><use id="k37-8" href="#WR" x="447.5"/><use id="k37-9" href="#WR" x="499.5"/><use id="k37-10" href="#WR" x="551.5"/><use id="k37-11" href="#BR" x="603.5"/><use id="k37-12" href="#BR" x="655.5"/><use id="k37-13" href="#BR" x="707.5"/><use id="k37-14" href="#BR" x="759.5"/><use id="k37-15" href="#BR" x="811.5"/></g>
<g id="row38" transform="translate(0,1986)"><use id="k38-1" href="#BL" x="83.5"/><use id="k38-2" href="#BL" x="135.5"/><use id="k38-3" href="#BL" x="187.5"/><use id="k38-4" href="#WL" x="239.5"/><use id="k38-5" href="#WL" x="291.5"/><use id="k38-6" href="#WL" x="343.5"/><use id="k38-7" href="#WL" x="395.5"/><use id="k38-8" href="#WL" x="447.5"/><use id="k38-9" href="#WL" x="499.5"/><use id="k38-10" href="#BL" x="551.5"/><use id="k38-11" href="#BL" x="603.5"/><use id="k38-12" href="#BL" x="655.5"/><use id="k38-13" href="#BL" x="707.5"/><use id="k38-14" href="#BL" x="759.5"/><use id="k38-15" href="#BL" x="811.5"/></g>
<g id="row39" transform="translate(0,2038)"><use id="k39-1" href="#BR" x="83.5"/><use id="k39-2" href="#BR" x="135.5"/><use id="k39-3" href="#BR" x="187.5"/><use id="k39-4" href="#BR" x="239.5"/><use id="k39-5" href="#BR" x="291.5"/><use id="k39-6" href="#BR" x="343.5"/><use id="k39-7" href="#BR" x="395.5"/><use id="k39-8" href="#BR" x="447.5"/><use id="k39-9" href="#BR" x="499.5"/><use id="k39-10" href="#BR" x="551.5"/><use id="k39-11" href="#BR" x="603.5"/><use id="k39-12" href="#BR" x="655.5"/><use id="k39-13" href="#BR" x="707.5"/><use id="k39-14" href="#BR" x="759.5"/><use id="k39-15" href="#BR" x="811.5"/></g>
<g id="row40" transform="translate(0,2090)"><use id="k40-1" href="#BL" x="83.5"/><use id="k40-2" href="#BL" x="135.5"/><use id="k40-3" href="#BL" x="187.5"/><use id="k40-4" href="#WL" x="239.5"/><use id="k40-5" href="#WL" x="291.5"/><use id="k40-6" href="#BL" x="343.5"/><use id="k40-7" href="#BL" x="395.5"/><use id="k40-8" href="#BL" x="447.5"/><use id="k40-9" href="#BL" x="499.5"/><use id="k40-10" href="#BL" x="551.5"/><use id="k40-11" href="#BL" x="603.5"/><use id="k40-12" href="#BL" x="655.5"/><use id="k40-13" href="#BL" x="707.5"/><use id="k40-14" href="#BL" x="759.5"/><use id="k40-15" href="#BL" x="811.5"/></g>
<g id="row41" transform="translate(0,2142)"><use id="k41-1" href="#BR" x="83.5"/><use id="k41-2" href="#BR" x="135.5"/><use id="k41-3" href="#WR" x="187.5"/><use id="k41-4" href="#WR" x="239.5"/><use id="k41-5" href="#WR" x="291.5"/><use id="k41-6" href="#WR" x="343.5"/><use id="k41-7" href="#WR" x="395.5"/><use id="k41-8" href="#BR" x="447.5"/><use id="k41-9" href="#WR" x="499.5"/><use id="k41-10" href="#BR" x="551.5"/><use id="k41-11" href="#BR" x="603.5"/><use id="k41-12" href="#BR" x="655.5"/><use id="k41-13" href="#BR" x="707.5"/><use id="k41-14" href="#BR" x="759.5"/><use id="k41-15" href="#BR" x="811.5"/></g>
<g id="row42" transform="translate(0,2194)"><use id="k42-1" href="#BL" x="83.5"/><use id="k42-2" href="#BL" x="135.5"/><use id="k42-3" href="#WL" x="187.5"/><use id="k42-4" href="#WL" x="239.5"/><use id="k42-5" href="#WL" x="291.5"/><use id="k42-6" href="#WL" x="343.5"/><use id="k42-7" href="#WL" x="395.5"/><use id="k42-8" href="#BL" x="447.5"/><use id="k42-9" href="#WL" x="499.5"/><use id="k42-10" href="#WL" x="551.5"/><use id="k42-11" href="#BL" x="603.5"/><use id="k42-12" href="#BL" x="655.5"/><use id="k42-13" href="#BL" x="707.5"/><use id="k42-14" href="#BL" x="759.5"/><use id="k42-15" href="#BL" x="811.5"/></g>
<g id="row43" transform="translate(0,2246)"><use id="k43-1" href="#BR" x="83.5"/><use id="k43-2" href="#BR" x="135.5"/><use id="k43-3" href="#WR" x="187.5"/><use id="k43-4" href="#WR" x="239.5"/><use id="k43-5" href="#WR" x="291.5"/><use id="k43-6" href="#BR" x="343.5"/><use id="k43-7" href="#BR" x="395.5"/><use id="k43-8" href="#WR" x="447.5"/><use id="k43-9" href="#BR" x="499.5"/><use id="k43-10" href="#WR" x="551.5"/><use id="k43-11" href="#BR" x="603.5"/><use id="k43-12" href="#BR" x="655.5"/><use id="k43-13" href="#BR" x="707.5"/><use id="k43-14" href="#BR" x="759.5"/><use id="k43-15" href="#BR" x="811.5"/></g>
<g id="row44" transform="translate(0,2298)"><use id="k44-1" href="#BL" x="83.5"/><use id="k44-2" href="#BL" x="135.5"/><use id="k44-3" href="#WL" x="187.5"/><use id="k44-4" href="#WL" x="239.5"/><use id="k44-5" href="#WL" x="291.5"/><use id="k44-6" href="#WL" x="343.5"/><use id="k44-7" href="#WL" x="395.5"/><use id="k44-8" href="#WL" x="447.5"/><use id="k44-9" href="#WL" x="499.5"/><use id="k44-10" href="#WL" x="551.5"/><use id="k44-11" href="#BL" x="603.5"/><use id="k44-12" href="#BL" x="655.5"/><use id="k44-13" href="#BL" x="707.5"/><use id="k44-14" href="#BL" x="759.5"/><use id="k44-15" href="#BL" x="811.5"/></g>
<g id="row45" transform="translate(0,2350)"><use id="k45-1" href="#BR" x="83.5"/><use id="k45-2" href="#BR" x="135.5"/><use id="k45-3" href="#WR" x="187.5"/><use id="k45-4" href="#WR" x="239.5"/><use id="k45-5" href="#WR" x="291.5"/><use id="k45-6" href="#WR" x="343.5"/><use id="k45-7" href="#WR" x="395.5"/><use id="k45-8" href="#WR" x="447.5"/><use id="k45-9" href="#WR" x="499.5"/><use id="k45-10" href="#WR" x="551.5"/><use id="k45-11" href="#BR" x="603.5"/><use id="k45-12" href="#BR" x="655.5"/><use id="k45-13" href="#BR" x="707.5"/><use id="k45-14" href="#BR" x="759.5"/><use id="k45-15" href="#BR" x="811.5"/></g>
<g id="row46" transform="translate(0,2402)"><use id="k46-1" href="#BL" x="83.5"/><use id="k46-2" href="#BL" x="135.5"/><use id="k46-3" href="#BL" x="187.5"/><use id="k46-4" href="#WL" x="239.5"/><use id="k46-5" href="#WL" x="291.5"/><use id="k46-6" href="#WL" x="343.5"/><use id="k46-7" href="#BL" x="395.5"/><use id="k46-8" href="#BL" x="447.5"/><use id="k46-9" href="#BL" x="499.5"/><use id="k46-10" href="#BL" x="551.5"/><use id="k46-11" href="#BL" x="603.5"/><use id="k46-12" href="#BL" x="655.5"/><use id="k46-13" href="#BL" x="707.5"/><use id="k46-14" href="#BL" x="759.5"/><use id="k46-15" href="#BL" x="811.5"/></g>
<g id="row47" transform="translate(0,2454)"><use id="k47-1" href="#BR" x="83.5"/><use id="k47-2" href="#BR" x="135.5"/><use id="k47-3" href="#BR" x="187.5"/><use id="k47-4" href="#BR" x="239.5"/><use id="k47-5" href="#BR" x="291.5"/><use id="k47-6" href="#BR" x="343.5"/><use id="k47-7" href="#BR" x="395.5"/><use id="k47-8" href="#BR" x="447.5"/><use id="k47-9" href="#BR" x="499.5"/><use id="k47-10" href="#BR" x="551.5"/><use id="k47-11" href="#BR" x="603.5"/><use id="k47-12" href="#BR" x="655.5"/><use id="k47-13" href="#BR" x="707.5"/><use id="k47-14" href="#BR" x="759.5"/><use id="k47-15" href="#BR" x="811.5"/></g>
<g id="row48" transform="translate(0,2506)"><use id="k48-1" href="#BL" x="83.5"/><use id="k48-2" href="#BL" x="135.5"/><use id="k48-3" href="#WL" x="187.5"/><use id="k48-4" href="#WL" x="239.5"/><use id="k48-5" href="#WL" x="291.5"/><use id="k48-6" href="#WL" x="343.5"/><use id="k48-7" href="#BL" x="395.5"/><use id="k48-8" href="#BL" x="447.5"/><use id="k48-9" href="#BL" x="499.5"/><use id="k48-10" href="#BL" x="551.5"/><use id="k48-11" href="#BL" x="603.5"/><use id="k48-12" href="#WL" x="655.5"/><use id="k48-13" href="#BL" x="707.5"/><use id="k48-14" href="#BL" x="759.5"/><use id="k48-15" href="#BL" x="811.5"/></g>
<g id="row49" transform="translate(0,2558)"><use id="k49-1" href="#BR" x="83.5"/><use id="k49-2" href="#BR" x="135.5"/><use id="k49-3" href="#WR" x="187.5"/><use id="k49-4" href="#WR" x="239.5"/><use id="k49-5" href="#WR" x="291.5"/><use id="k49-6" href="#WR" x="343.5"/><use id="k49-7" href="#WR" x="395.5"/><use id="k49-8" href="#WR" x="447.5"/><use id="k49-9" href="#WR" x="499.5"/><use id="k49-10" href="#WR" x="551.5"/><use id="k49-11" href="#WR" x="603.5"/><use id="k49-12" href="#WR" x="655.5"/><use id="k49-13" href="#WR" x="707.5"/><use id="k49-14" href="#BR" x="759.5"/><use id="k49-15" href="#BR" x="811.5"/></g>
<g id="row50" transform="translate(0,2610)"><use id="k50-1" href="#BL" x="83.5"/><use id="k50-2" href="#BL" x="135.5"/><use id="k50-3" href="#WL" x="187.5"/><use id="k50-4" href="#WL" x="239.5"/><use id="k50-5" href="#WL" x="291.5"/><use id="k50-6" href="#WL" x="343.5"/><use id="k50-7" href="#WL" x="395.5"/><use id="k50-8" href="#WL" x="447.5"/><use id="k50-9" href="#WL" x="499.5"/><use id="k50-10" href="#WL" x="551.5"/><use id="k50-11" href="#WL" x="603.5"/><use id="k50-12" href="#WL" x="655.5"/><use id="k50-13" href="#WL" x="707.5"/><use id="k50-14" href="#BL" x="759.5"/><use id="k50-15" href="#BL" x="811.5"/></g>
<g id="row51" transform="translate(0,2662)"><use id="k51-1" href="#BR" x="83.5"/><use id="k51-2" href="#BR" x="135.5"/><use id="k51-3" href="#WR" x="187.5"/><use id="k51-4" href="#WR" x="239.5"/><use id="k51-5" href="#BR" x="291.5"/><use id="k51-6" href="#BR" x="343.5"/><use id="k51-7" href="#BR" x="395.5"/><use id="k51-8" href="#BR" x="447.5"/><use id="k51-9" href="#BR" x="499.5"/><use id="k51-10" href="#BR" x="551.5"/><use id="k51-11" href="#BR" x="603.5"/><use id="k51-12" href="#BR" x="655.5"/><use id="k51-13" href="#BR" x="707.5"/><use id="k51-14" href="#BR" x="759.5"/><use id="k51-15" href="#BR" x="811.5"/></g>
<g id="row52" transform="translate(0,2714)"><use id="k52-1" href="#BL" x="83.5"/><use id="k52-2" href="#BL" x="135.5"/><use id="k52-3" href="#BL" x="187.5"/><use id="k52-4" href="#BL" x="239.5"/><use id="k52-5" href="#BL" x="291.5"/><use id="k52-6" href="#BL" x="343.5"/><use id="k52-7" href="#BL" x="395.5"/><use id="k52-8" href="#BL" x="447.5"/><use id="k52-9" href="#BL" x="499.5"/><use id="k52-10" href="#BL" x="551.5"/><use id="k52-11" href="#BL" x="603.5"/><use id="k52-12" href="#BL" x="655.5"/><use id="k52-13" href="#BL" x="707.5"/><use id="k52-14" href="#BL" x="759.5"/><use id="k52-15" href="#BL" x="811.5"/></g>
<g id="row53" transform="translate(0,2766)"><use id="k53-1" href="#BR" x="83.5"/><use id="k53-2" href="#BR" x="135.5"/><use id="k53-3" href="#WR" x="187.5"/><use id="k53-4" href="#WR" x="239.5"/><use id="k53-5" href="#WR" x="291.5"/><use id="k53-6" href="#WR" x="343.5"/><use id="k53-7" href="#BR" x="395.5"/><use id="k53-8" href="#BR" x="447.5"/><use id="k53-9" href="#BR" x="499.5"/><use id="k53-10" href="#BR" x="551.5"/><use id="k53-11" href="#BR" x="603.5"/><use id="k53-12" href="#WR" x="655.5"/><use id="k53-13" href="#BR" x="707.5"/><use id="k53-14" href="#BR" x="759.5"/><use id="k53-15" href="#BR" x="811.5"/></g>
<g id="row54" transform="translate(0,2818)"><use id="k54-1" href="#BL" x="83.5"/><use id="k54-2" href="#BL" x="135.5"/><use id="k54-3" href="#WL" x="187.5"/><use id="k54-4" href="#WL" x="239.5"/><use id="k54-5" href="#WL" x="291.5"/><use id="k54-6" href="#WL" x="343.5"/><use id="k54-7" href="#WL" x="395.5"/><use id="k54-8" href="#WL" x="447.5"/><use id="k54-9" href="#WL" x="499.5"/><use id="k54-10" href="#WL" x="551.5"/><use id="k54-11" href="#WL" x="603.5"/><use id="k54-12" href="#WL" x="655.5"/><use id="k54-13" href="#WL" x="707.5"/><use id="k54-14" href="#BL" x="759.5"/><use id="k54-15" href="#BL" x="811.5"/></g>
<g id="row55" transform="translate(0,2870)"><use id="k55-1" href="#BR" x="83.5"/><use id="k55-2" href="#BR" x="135.5"/><use id="k55-3" href="#WR" x="187.5"/><use id="k55-4" href="#WR" x="239.5"/><use id="k55-5" href="#WR" x="291.5"/><use id="k55-6" href="#WR" x="343.5"/><use id="k55-7" href="#WR" x="395.5"/><use id="k55-8" href="#WR" x="447.5"/><use id="k55-9" href="#WR" x="499.5"/><use id="k55-10" href="#WR" x="551.5"/><use id="k55-11" href="#WR" x="603.5"/><use id="k55-12" href="#WR" x="655.5"/><use id="k55-13" href="#WR" x="707.5"/><use id="k55-14" href="#BR" x="759.5"/><use id="k55-15" href="#BR" x="811.5"/></g>
<g id="row56" transform="translate(0,2922)"><use id="k56-1" href="#BL" x="83.5"/><use id="k56-2" href="#BL" x="135.5"/><use id="k56-3" href="#WL" x="187.5"/><use id="k56-4" href="#WL" x="239.5"/><use id="k56-5" href="#BL" x="291.5"/><use id="k56-6" href="#BL" x="343.5"/><use id="k56-7" href="#BL" x="395.5"/><use id="k56-8" href="#BL" x="447.5"/><use id="k56-9" href="#BL" x="499.5"/><use id="k56-10" href="#BL" x="551.5"/><use id="k56-11" href="#BL" x="603.5"/><use id="k56-12" href="#BL" x="655.5"/><use id="k56-13" href="#BL" x="707.5"/><use id="k56-14" href="#BL" x="759.5"/><use id="k56-15" href="#BL" x="811.5"/></g>
<g id="row57" transform="translate(0,2974)"><use id="k57-1" href="#BR" x="83.5"/><use id="k57-2" href="#BR" x="135.5"/><use id="k57-3" href="#BR" x="187.5"/><use id="k57-4" href="#BR" x="239.5"/><use id="k57-5" href="#BR" x="291.5"/><use id="k57-6" href="#BR" x="343.5"/><use id="k57-7" href="#BR" x="395.5"/><use id="k57-8" href="#BR" x="447.5"/><use id="k57-9" href="#BR" x="499.5"/><use id="k57-10" href="#BR" x="551.5"/><use id="k57-11" href="#BR" x="603.5"/><use id="k57-12" href="#BR" x="655.5"/><use id="k57-13" href="#BR" x="707.5"/><use id="k57-14" href="#BR" x="759.5"/><use id="k57-15" href="#BR" x="811.5"/></g>
<g id="row58" transform="translate(0,3026)"><use id="k58-1" href="#BL" x="83.5"/><use id="k58-2" href="#BL" x="135.5"/><use id="k58-3" href="#BL" x="187.5"/><use id="k58-4" href="#BL" x="239.5"/><use id="k58-5" href="#BL" x="291.5"/><use id="k58-6" href="#BL" x="343.5"/><use id="k58-7" href="#BL" x="395.5"/><use id="k58-8" href="#BL" x="447.5"/><use id="k58-9" href="#BL" x="499.5"/><use id="k58-10" href="#BL" x="551.5"/><use id="k58-11" href="#BL" x="603.5"/><use id="k58-12" href="#BL" x="655.5"/><use id="k58-13" href="#BL" x="707.5"/><use id="k58-14" href="#BL" x="759.5"/><use id="k58-15" href="#BL" x="811.5"/></g>
</g>
<g id="labels">
<text class="lt" x="35" y="66" fill="#fff">A</text>
<text class="lt" x="35" y="170" fill="#000">B</text>
<text class="lt" x="35" y="2926" fill="#000">B</text>
<text class="lt" x="35" y="3030" fill="#fff">A</text>
<text class="lt" x="862" y="222" fill="#fff">C</text>
<text class="lt" x="862" y="1106" fill="#fff">C</text>
<g class="n nl">
<text x="22" y="67">1</text><text x="22" y="119">2</text><text x="22" y="171">3</text><text x="22" y="223">4</text><text x="22" y="275">5</text><text x="22" y="327">6</text><text x="22" y="379">7</text><text x="22" y="431">8</text><text x="22" y="483">9</text><text x="22" y="535">10</text><text x="22" y="587">11</text><text x="22" y="639">12</text><text x="22" y="691">13</text><text x="22" y="743">14</text><text x="22" y="795">15</text><text x="22" y="847">16</text><text x="22" y="899">17</text><text x="22" y="951">18</text><text x="22" y="1003">19</text><text x="22" y="1055">20</text><text x="22" y="1107">21</text><text x="22" y="1159">22</text><text x="22" y="1211">23</text><text x="22" y="1263">24</text><text x="22" y="1315">25</text><text x="22" y="1367">26</text><text x="22" y="1419">27</text><text x="22" y="1471">28</text><text x="22" y="1523">29</text><text x="22" y="1575">30</text><text x="22" y="1627">31</text><text x="22" y="1679">32</text><text x="22" y="1731">33</text><text x="22" y="1783">34</text><text x="22" y="1835">35</text><text x="22" y="1887">36</text><text x="22" y="1939">37</text><text x="22" y="1991">38</text><text x="22" y="2043">39</text><text x="22" y="2095">40</text><text x="22" y="2147">41</text><text x="22" y="2199">42</text><text x="22" y="2251">43</text><text x="22" y="2303">44</text><text x="22" y="2355">45</text><text x="22" y="2407">46</text><text x="22" y="2459">47</text><text x="22" y="2511">48</text><text x="22" y="2563">49</text><text x="22" y="2615">50</text><text x="22" y="2667">51</text><text x="22" y="2719">52</text><text x="22" y="2771">53</text><text x="22" y="2823">54</text><text x="22" y="2875">55</text><text x="22" y="2927">56</text><text x="22" y="2979">57</text><text x="22" y="3031">58</text>
</g>
<g class="n">
<text x="874" y="67">1</text><text x="874" y="119">2</text><text x="874" y="171">3</text><text x="874" y="223">4</text><text x="874" y="275">5</text><text x="874" y="327">6</text><text x="874" y="379">7</text><text x="874" y="431">8</text><text x="874" y="483">9</text><text x="874" y="535">10</text><text x="874" y="587">11</text><text x="874" y="639">12</text><text x="874" y="691">13</text><text x="874" y="743">14</text><text x="874" y="795">15</text><text x="874" y="847">16</text><text x="874" y="899">17</text><text x="874" y="951">18</text><text x="874" y="1003">19</text><text x="874" y="1055">20</text><text x="874" y="1107">21</text><text x="874" y="1159">22</text><text x="874" y="1211">23</text><text x="874" y="1263">24</text><text x="874" y="1315">25</text><text x="874" y="1367">26</text><text x="874" y="1419">27</text><text x="874" y="1471">28</text><text x="874" y="1523">29</text><text x="874" y="1575">30</text><text x="874" y="1627">31</text><text x="874" y="1679">32</text><text x="874" y="1731">33</text><text x="874" y="1783">34</text><text x="874" y="1835">35</text><text x="874" y="1887">36</text><text x="874" y="1939">37</text><text x="874" y="1991">38</text><text x="874" y="2043">39</text><text x="874" y="2095">40</text><text x="874" y="2147">41</text><text x="874" y="2199">42</text><text x="874" y="2251">43</text><text x="874" y="2303">44</text><text x="874" y="2355">45</text><text x="874" y="2407">46</text><text x="874" y="2459">47</text><text x="874" y="2511">48</text><text x="874" y="2563">49</text><text x="874" y="2615">50</text><text x="874" y="2667">51</text><text x="874" y="2719">52</text><text x="874" y="2771">53</text><text x="874" y="2823">54</text><text x="874" y="2875">55</text><text x="874" y="2927">56</text><text x="874" y="2979">57</text><text x="874" y="3031">58</text>
</g>
<text x="448" y="1549" font-family="'Liberation Sans',Arial,sans-serif" font-size="17" font-weight="bold" fill="#3a3a3a" stroke="#fff" stroke-width="3" paint-order="stroke" text-anchor="middle" textLength="153" lengthAdjust="spacingAndGlyphs">BRACELETBOOK.COM</text>
</g>
</svg>
